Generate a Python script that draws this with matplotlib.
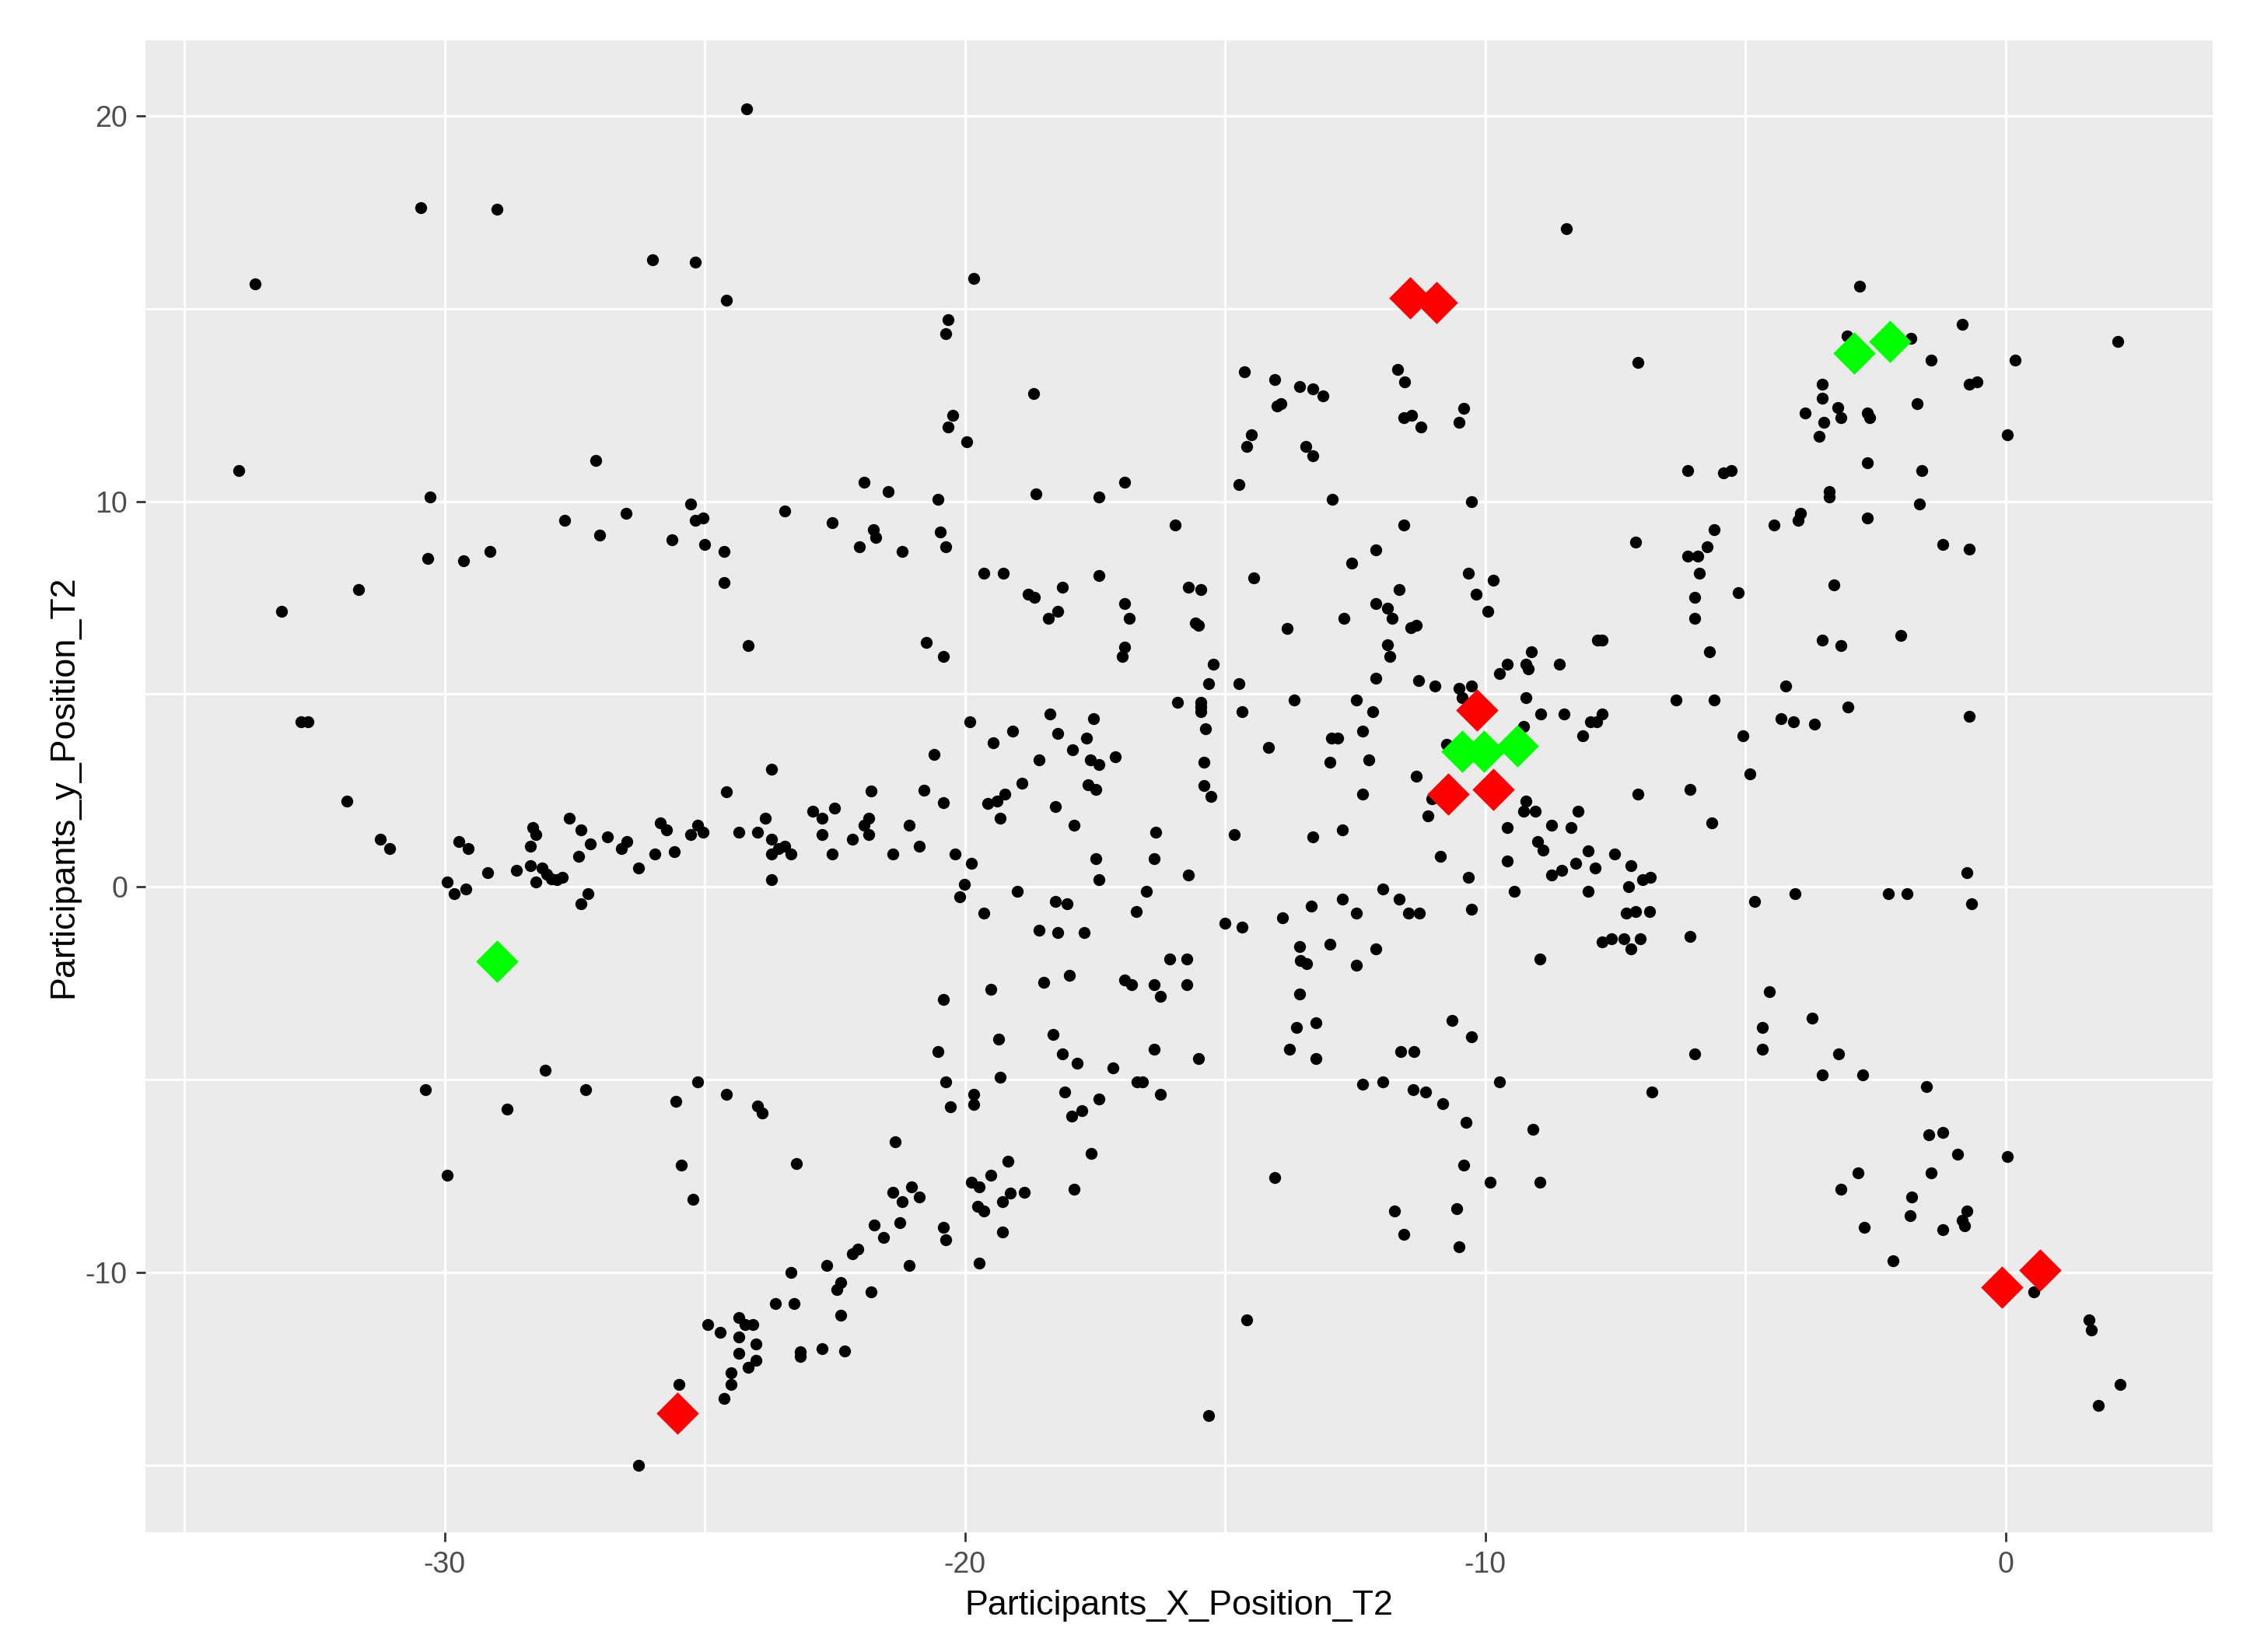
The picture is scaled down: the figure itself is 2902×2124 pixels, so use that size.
import matplotlib
matplotlib.use("Agg")
import matplotlib.pyplot as plt

participants = [
(-24.20,20.17),(-30.46,17.62),(-28.99,17.57),(-26.00,16.26),(-25.18,16.20),(-24.58,15.21),(-33.64,15.64),(-33.96,10.80),
(-27.10,11.05),(-30.28,10.12),(-25.27,9.94),(-23.47,9.75),(-22.55,9.44),(-27.70,9.50),(-26.51,9.69),(-27.02,9.13),
(-25.18,9.50),(-25.04,9.57),(-25.63,9.01),(-25.00,8.89),(-24.63,8.70),(-24.63,7.90),(-24.17,6.27),(-30.33,8.51),
(-29.64,8.45),(-29.13,8.70),(-31.66,7.71),(-33.13,7.15),(-32.76,4.29),(-32.62,4.29),(-23.71,3.06),(-24.58,2.46),
(-19.83,15.77),(-20.33,14.72),(-20.37,14.34),(-18.68,12.80),(-20.24,12.23),(-20.33,11.92),(-19.96,11.55),(-21.94,10.50),
(-21.48,10.25),(-20.52,10.06),(-18.63,10.19),(-17.43,10.12),(-16.93,10.50),(-14.73,10.43),(-14.63,13.35),(-14.04,13.16),
(-13.57,12.98),(-13.31,12.91),(-13.12,12.74),(-13.93,12.54),(-14.00,12.48),(-14.50,11.73),(-14.59,11.42),(-13.45,11.42),
(-13.31,11.18),(-11.69,13.42),(-11.55,13.09),(-11.56,12.17),(-11.41,12.23),(-11.24,11.92),(-10.41,12.41),(-10.50,12.04),
(-12.94,10.06),(-10.27,10.00),(-15.96,9.38),(-11.56,9.38),(-12.11,8.75),(-12.57,8.39),(-21.76,9.26),(-21.71,9.07),
(-22.03,8.82),(-21.20,8.70),(-20.47,9.20),(-20.37,8.82),(-19.64,8.14),(-19.27,8.14),(-18.78,7.59),(-18.67,7.52),
(-18.13,7.77),(-18.21,7.15),(-18.40,6.97),(-17.43,8.08),(-16.93,7.34),(-16.84,6.97),(-15.70,7.77),(-15.46,7.71),
(-14.45,8.02),(-15.57,6.84),(-15.51,6.78),(-13.81,6.71),(-12.71,6.97),(-12.11,7.34),(-11.88,7.22),(-11.79,6.97),
(-11.65,7.71),(-11.43,6.72),(-11.32,6.78),(-10.32,8.14),(-9.85,7.96),(-10.18,7.59),(-9.95,7.15),(-20.75,6.35),
(-20.42,5.97),(-16.93,6.22),(-16.98,5.97),(-11.88,6.29),(-11.84,5.97),(-9.12,6.09),(-9.58,5.78),(-9.73,5.53),
(-9.22,5.78),(-9.17,5.66),(-15.23,5.78),(-15.32,5.28),(-14.73,5.28),(-12.11,5.41),(-11.28,5.35),(-10.96,5.22),
(-10.50,5.16),(-10.27,5.22),(-10.45,4.91),(-13.67,4.85),(-12.47,4.85),(-9.22,4.91),(-8.94,4.48),(-15.92,4.79),
(-15.46,4.79),(-15.46,4.67),(-15.46,4.54),(-14.68,4.54),(-12.16,4.54),(-19.91,4.29),(-18.36,4.48),(-17.53,4.36),
(-19.09,4.05),(-18.21,3.99),(-19.46,3.74),(-17.66,3.86),(-15.37,4.11),(-20.60,3.43),(-17.94,3.55),(-18.58,3.30),
(-17.59,3.30),(-17.43,3.18),(-17.11,3.37),(-15.41,3.24),(-14.17,3.61),(-12.95,3.86),(-12.84,3.86),(-12.35,4.05),
(-12.98,3.24),(-12.24,3.30),(-9.26,4.17),(-10.75,3.70),(-11.32,2.88),(-18.91,2.69),(-17.63,2.65),(-17.48,2.52),
(-15.41,2.63),(-21.80,2.48),(-20.79,2.51),
(-8.44,17.07),(-2.80,15.58),(-0.83,14.59),(2.15,14.15),(-3.04,14.28),(-1.82,14.22),(-1.43,13.66),(0.18,13.66),
(-7.07,13.60),(-3.53,13.04),(-3.53,12.67),(-0.70,13.04),(-0.55,13.09),(-3.85,12.29),(-3.22,12.43),(-3.17,12.17),
(-2.66,12.29),(-2.61,12.17),(-1.70,12.54),(-3.49,12.04),(-3.58,11.68),(0.04,11.73),(-2.66,11.00),(-1.61,10.80),
(-6.11,10.80),(-5.42,10.74),(-5.27,10.80),(-3.39,10.26),(-3.39,10.12),(-1.66,9.94),(-3.94,9.69),(-3.99,9.50),
(-4.45,9.38),(-2.66,9.57),(-5.60,9.26),(-7.11,8.95),(-5.74,8.82),(-6.11,8.58),(-5.92,8.58),(-5.88,8.14),
(-1.20,8.89),(-0.70,8.76),(-5.97,7.52),(-5.14,7.64),(-3.30,7.83),(-5.97,6.96),(-7.84,6.41),(-7.75,6.41),
(-3.53,6.41),(-3.17,6.27),(-2.02,6.52),(-5.69,6.09),(-8.58,5.78),(-4.22,5.22),(-6.34,4.85),(-5.60,4.85),
(-8.49,4.48),(-7.98,4.29),(-7.86,4.29),(-7.75,4.48),(-3.03,4.67),(-4.31,4.36),(-4.08,4.29),(-3.67,4.23),
(-0.70,4.42),(-8.12,3.92),(-5.05,3.92),(-4.91,2.93),(-6.06,2.52),
(-7.07,2.41),(-8.21,1.97),(-8.72,1.60),(-8.35,1.54),(-5.65,1.66),(-8.03,0.94),(-7.52,0.86),(-8.26,0.62),
(-7.89,0.49),(-7.20,0.55),(-8.53,0.43),(-8.72,0.32),(-6.82,0.26),(-6.98,0.20),(-7.25,0.01),(-8.03,-0.11),
(-7.11,-0.63),(-7.29,-0.68),(-6.84,-0.63),(-7.76,-1.42),(-7.57,-1.35),(-7.34,-1.35),(-7.02,-1.35),(-7.20,-1.60),
(-6.06,-1.29),(-0.74,0.37),(-0.65,-0.43),(-4.82,-0.37),(-4.04,-0.18),(-2.25,-0.18),(-1.89,-0.18),(-4.54,-2.71),
(-3.72,-3.40),(-4.68,-3.65),(-4.68,-4.20),(-3.21,-4.32),(-5.97,-4.32),(-3.53,-4.88),(-2.75,-4.88),(-6.80,-5.31),
(-1.52,-5.18),(-1.48,-6.43),(-1.20,-6.37),(-0.93,-6.92),(0.04,-6.98),(-2.84,-7.41),(-1.43,-7.41),(-3.17,-7.84),
(-1.80,-8.03),(-1.84,-8.52),(-0.74,-8.40),(-0.83,-8.65),(-0.79,-8.78),(-2.71,-8.83),(-1.20,-8.89),(-2.16,-9.69),
(0.54,-10.49),(1.60,-11.23),(1.65,-11.48),(2.20,-12.89),(1.79,-13.45),
(-20.42,2.19),(-19.56,2.16),(-19.39,2.22),(-19.24,2.40),(-18.26,2.09),(-19.32,1.79),(-17.90,1.60),(-21.85,1.79),
(-21.94,1.60),(-21.07,1.60),(-21.85,1.35),(-22.17,1.23),(-21.38,0.86),(-20.88,1.05),(-20.19,0.86),(-19.87,0.62),
(-20.01,0.06),(-20.10,-0.25),(-19.64,-0.68),(-18.99,-0.12),(-18.26,-0.37),(-18.03,-0.43),(-18.58,-1.12),(-18.21,-1.18),
(-17.71,-1.18),(-17.48,0.74),(-17.43,0.18),(-16.33,1.42),(-16.37,0.74),(-16.52,-0.12),(-16.70,-0.63),(-15.70,0.31),
(-15.27,2.34),(-14.82,1.35),(-13.31,1.29),(-12.75,1.48),(-12.35,2.40),(-11.10,1.85),(-11.03,2.29),(-10.87,0.80),
(-10.32,0.25),(-11.97,-0.06),(-11.65,-0.31),(-12.75,-0.31),(-13.35,-0.49),(-12.47,-0.68),(-11.47,-0.68),(-11.27,-0.68),
(-13.90,-0.80),(-15.01,-0.94),(-14.68,-1.05),(-10.27,-0.57),(-9.58,1.54),(-9.58,0.68),(-9.45,-0.12),(-8.99,1.17),
(-8.89,0.96),(-9.22,2.22),(-9.27,1.97),(-9.04,1.97),(-8.95,-1.86),(-13.57,-1.54),(-12.98,-1.48),(-12.11,-1.61),
(-13.55,-1.91),(-13.44,-1.98),(-12.47,-2.03),(-13.57,-2.77),(-13.26,-3.52),(-13.63,-3.65),(-13.76,-4.20),(-13.26,-4.45),
(-10.64,-3.46),(-10.27,-3.89),(-11.62,-4.26),(-11.37,-4.26),(-12.35,-5.12),(-11.97,-5.06),(-11.38,-5.25),(-11.14,-5.31),
(-10.82,-5.62),(-9.73,-5.06),(-10.37,-6.11),(-9.08,-6.29),(-10.41,-7.22),(-9.91,-7.66),(-8.95,-7.66),(-14.04,-7.54),
(-10.55,-8.34),(-11.74,-8.40),(-11.56,-9.01),(-10.50,-9.32),(-14.59,-11.23),(-15.32,-13.71),(-16.06,-1.86),(-15.73,-1.86),
(-16.93,-2.41),(-16.79,-2.54),(-16.37,-2.54),(-15.73,-2.54),(-16.25,-2.84),(-18.49,-2.48),(-17.99,-2.29),(-19.50,-2.66),
(-20.42,-2.91),(-19.36,-3.95),(-18.31,-3.83),(-18.13,-4.32),(-17.85,-4.57),(-17.16,-4.69),(-16.37,-4.20),(-15.51,-4.45),
(-20.52,-4.26),(-20.37,-5.06),(-19.32,-4.94),(-19.83,-5.37),(-19.83,-5.63),(-20.28,-5.69),(-18.08,-5.31),(-16.69,-5.06),
(-16.59,-5.06),(-16.25,-5.37),(-17.43,-5.49),(-17.75,-5.80),(-17.95,-5.94),(-21.34,-6.61),(-17.58,-6.91),(-19.18,-7.11),
(-19.50,-7.48),(-19.87,-7.66),(-19.73,-7.78),(-17.90,-7.84),(-21.38,-7.91),(-21.02,-7.78),(-20.88,-8.03),(-21.20,-8.15),
(-19.13,-7.94),(-19.28,-8.15),(-18.86,-7.91),(-19.75,-8.28),(-19.64,-8.40),(-21.75,-8.77),(-21.25,-8.71),(-21.56,-9.08),
(-20.42,-8.83),(-20.37,-9.14),(-19.28,-8.95),(-22.06,-9.38),(-22.17,-9.51),(-21.07,-9.82),(-19.73,-9.75),(-21.80,-10.49),
(-31.88,2.22),(-31.24,1.23),(-31.06,0.99),(-29.72,1.17),(-29.54,0.99),(-29.17,0.37),(-28.62,0.43),(-29.95,0.12),
(-29.82,-0.18),(-29.59,-0.06),(-28.31,1.55),(-28.25,1.35),(-28.35,1.05),(-28.35,0.55),(-28.12,0.49),(-28.03,0.34),
(-27.95,0.22),(-27.84,0.18),(-27.74,0.25),(-28.25,0.12),(-27.61,1.79),(-27.38,1.48),(-27.20,1.11),(-27.43,0.80),
(-26.87,1.29),(-26.50,1.17),(-26.60,0.99),(-26.28,0.49),(-25.96,0.86),(-25.86,1.67),(-25.73,1.48),(-25.59,0.92),
(-25.27,1.35),(-25.13,1.60),(-25.04,1.42),(-24.35,1.42),(-23.84,1.79),(-23.98,1.42),(-23.71,1.23),(-23.71,0.86),
(-23.59,0.99),(-23.47,1.05),(-23.34,0.86),(-23.71,0.18),(-22.92,1.97),(-22.74,1.79),(-22.51,2.04),(-22.74,1.35),
(-22.55,0.86),(-27.25,-0.18),(-27.38,-0.43),(-28.07,-4.75),(-30.37,-5.25),(-27.29,-5.25),(-28.80,-5.75),(-29.95,-7.48),
(-25.13,-5.06),(-25.55,-5.55),(-24.58,-5.37),(-23.98,-5.68),(-23.89,-5.86),(-25.45,-7.22),(-25.22,-8.09),(-23.24,-7.17),
(-23.34,-10.00),(-22.65,-9.82),(-22.38,-10.25),(-22.46,-10.43),(-23.65,-10.80),(-23.29,-10.80),(-22.38,-11.11),(-24.35,-11.17),
(-24.23,-11.35),(-24.08,-11.35),(-24.94,-11.35),(-24.71,-11.54),(-24.35,-11.66),(-24.02,-11.85),(-24.35,-12.09),(-24.02,-12.28),
(-24.17,-12.46),(-24.49,-12.59),(-24.49,-12.89),(-24.63,-13.26),(-25.49,-12.89),(-26.28,-15.00),(-23.16,-12.06),(-23.16,-12.18),
(-22.74,-11.97),(-22.31,-12.03),
]
red_x = [-11.44, -10.94, -10.16, -10.71, -9.84, -0.07, 0.66, -25.52]
red_y = [15.27, 15.15, 4.58, 2.41, 2.53, -10.37, -9.94, -13.65]
green_x = [-2.91, -2.22, -10.44, -10.02, -9.38, -29.00]
green_y = [13.85, 14.15, 3.52, 3.52, 3.65, -1.92]
x_major = [-30, -20, -10, 0]
y_major = [-10, 0, 10, 20]
x_minor = [-35, -25, -15, -5]
y_minor = [-15, -5, 5, 15]

W, H = 2902, 2124
plt.rcParams['font.family'] = ['Liberation Sans', 'DejaVu Sans']
plt.rcParams['axes.unicode_minus'] = False
fig = plt.figure(figsize=(W/100, H/100), dpi=100, facecolor='white')
L, R, T, B = 187, 2845, 52, 1970
ax = fig.add_axes([L/W, 1-B/H, (R-L)/W, (B-T)/H], facecolor='#EBEBEB')
ax.set_xlim(-35.75, 3.98)
ax.set_ylim(-16.73, 21.95)
for s in ax.spines.values():
    s.set_visible(False)
ax.set_xticks(x_major)
ax.set_yticks(y_major)
ax.set_xticks(x_minor, minor=True)
ax.set_yticks(y_minor, minor=True)
ax.grid(True, which='major', color='white', lw=2.4, zorder=1)
ax.grid(True, which='minor', color='white', lw=2.2, zorder=1)
ax.set_axisbelow(True)
ax.tick_params(which='major', length=8.6, width=2.0, color='#333333', labelcolor='#4D4D4D',
               labelsize=27)
ax.tick_params(axis='x', which='major', pad=9)
ax.tick_params(axis='y', which='major', pad=8)
ax.tick_params(which='minor', length=0)
px, py = zip(*participants)
ax.scatter(px, py, s=122, c='black', linewidths=0, zorder=3)
ax.scatter(red_x, red_y, s=770, c='#FF0000', marker='D', linewidths=0, zorder=4)
ax.scatter(green_x, green_y, s=770, c='#00FF00', marker='D', linewidths=0, zorder=4)
ax.set_xlabel('Participants_X_Position_T2', fontsize=32.3, color='black', labelpad=10)
ax.set_ylabel('Participants_y_Position_T2', fontsize=32.3, color='black', labelpad=5)
fig.savefig('out.png', dpi=100)
